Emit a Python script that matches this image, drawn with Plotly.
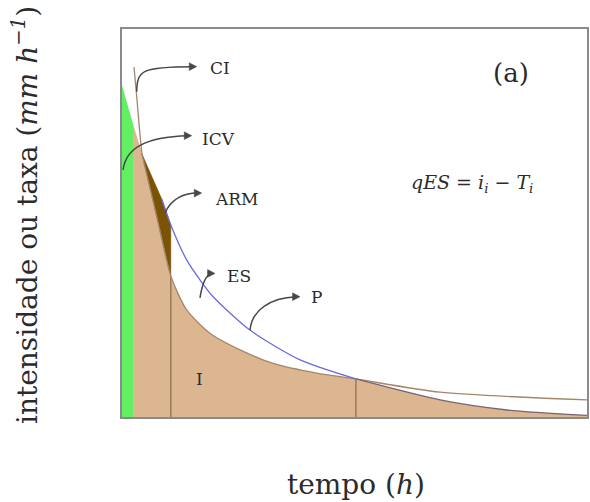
import plotly.graph_objects as go

# ---- data ----
# precipitation intensity curve P
t_p = [0, 2.37, 4.3, 6.5, 8.5, 10.5, 13.9, 16.8, 19.6, 27.5, 38.3, 50.3, 68.4, 82.8, 100]
p_rate = [85.5, 75.5, 67.8, 61.8, 56.3, 49.5, 40.5, 35.3, 31.0, 22.4, 14.7, 9.8, 4.4, 1.8, 0.4]
# infiltration capacity curve CI
t_ci = [2.58, 3.2, 4.3, 4.95, 7.6, 10.5, 13.9, 18.9, 25.4, 32.5, 41.9, 50.3, 68.4, 100]
ci_rate = [90.2, 82.1, 67.8, 64.4, 51.0, 36.3, 27.6, 21.6, 17.3, 13.8, 11.3, 9.8, 6.4, 4.4]

# indices of key instants
i_green_end = 1     # end of interception (t_p)
i_p_meet = 2        # P meets CI (t_p)
i_p_arm_end = 5     # end of depression storage (t_p)
i_p_cross = 11      # P falls below CI (t_p)
i_ci_meet = 2       # same instants in t_ci
i_ci_arm_end = 5
i_ci_cross = 11

GREEN = "#62ef62"
TAN = "#dbb691"
DARK = "#7a5304"
BLUE = "#6b6bdc"
CI_COL = "#a3876d"
EDGE = "#8d6b4f"
TXT = "#2b2b2b"
FONT = "DejaVu Serif"

fig = go.Figure()

# interception (green)
fig.add_trace(go.Scatter(
    x=t_p[:i_green_end + 1], y=p_rate[:i_green_end + 1],
    mode="lines", line=dict(width=0, color=GREEN),
    fill="tozeroy", fillcolor=GREEN, hoverinfo="skip"))

# infiltration (tan): under min(P, CI)
tan_x = t_p[i_green_end:i_p_meet] + t_ci[i_ci_meet:i_ci_cross] + t_p[i_p_cross:]
tan_y = p_rate[i_green_end:i_p_meet] + ci_rate[i_ci_meet:i_ci_cross] + p_rate[i_p_cross:]
fig.add_trace(go.Scatter(
    x=tan_x, y=tan_y, mode="lines",
    line=dict(width=0, color=TAN, shape="spline", smoothing=0.7),
    fill="tozeroy", fillcolor=TAN, hoverinfo="skip"))

# depression storage (dark brown)
arm_x = t_p[i_p_meet:i_p_arm_end + 1] + t_ci[i_ci_arm_end:i_ci_meet - 1:-1]
arm_y = p_rate[i_p_meet:i_p_arm_end + 1] + ci_rate[i_ci_arm_end:i_ci_meet - 1:-1]
fig.add_trace(go.Scatter(
    x=arm_x, y=arm_y, mode="lines",
    line=dict(width=0.5, color=DARK),
    fill="toself", fillcolor=DARK, hoverinfo="skip"))

# vertical separators
for tv, yv in [(t_ci[i_ci_arm_end], ci_rate[i_ci_arm_end]),
               (t_ci[i_ci_cross], ci_rate[i_ci_cross])]:
    fig.add_trace(go.Scatter(x=[tv, tv], y=[0, yv], mode="lines",
                             line=dict(color=EDGE, width=1.2), hoverinfo="skip"))

# infiltration capacity curve
fig.add_trace(go.Scatter(
    x=t_ci, y=ci_rate, mode="lines",
    line=dict(color=CI_COL, width=1.3, shape="spline", smoothing=0.7),
    hoverinfo="skip"))

# precipitation curve
fig.add_trace(go.Scatter(
    x=t_p[i_p_arm_end - 1:i_p_cross + 1], y=p_rate[i_p_arm_end - 1:i_p_cross + 1],
    mode="lines", line=dict(color=BLUE, width=1.3, shape="spline", smoothing=0.7),
    hoverinfo="skip"))
fig.add_trace(go.Scatter(
    x=t_p[i_p_cross:], y=p_rate[i_p_cross:],
    mode="lines", line=dict(color="#7a6275", width=1.3, shape="spline", smoothing=0.7),
    hoverinfo="skip"))

# curved pointer arrows (data coords)
ARROW = "#474747"
curves = [
    ((3.16, 83.8), (3.23, 89.4), (4.30, 90.3), (16.06, 90.3)),   # CI
    ((0.22, 63.7), (0.86, 69.3), (4.95, 72.2), (14.99, 72.5)),   # ICV
    ((9.25, 52.6), (10.75, 56.4), (13.55, 57.7), (17.14, 57.7)), # ARM
    ((16.77, 30.7), (17.2, 34.0), (18.06, 36.6), (20.0, 37.0)),  # ES
    ((27.53, 22.4), (27.96, 27.6), (31.83, 30.7), (38.28, 31.0)),# P
]
HEAD_L, HEAD_H = 1.6, 1.0   # arrowhead length (x units) and half-height (y units)
shapes = []
for a, b, c, d in curves:
    shapes.append(dict(
        type="path", xref="x", yref="y",
        path=f"M {a[0]},{a[1]} C {b[0]},{b[1]} {c[0]},{c[1]} {d[0] - HEAD_L * 0.5},{d[1]}",
        line=dict(color=ARROW, width=1.5)))
    shapes.append(dict(
        type="path", xref="x", yref="y",
        path=(f"M {d[0]},{d[1]} L {d[0] - HEAD_L},{d[1] + HEAD_H} "
              f"L {d[0] - HEAD_L},{d[1] - HEAD_H} Z"),
        fillcolor=ARROW, line=dict(color=ARROW, width=0.5)))

annotations = []
labels = [("CI", 21.08, 89.9), ("ICV", 20.65, 71.6), ("ARM", 24.73, 56.2),
          ("ES", 25.16, 36.3), ("P", 41.72, 30.9), ("I", 16.77, 9.8)]
for txt, x, y in labels:
    annotations.append(dict(x=x, y=y, xref="x", yref="y", text=txt,
                            showarrow=False, xanchor="center", yanchor="middle",
                            font=dict(family=FONT, size=17, color=TXT)))

annotations.append(dict(x=83.66, y=88.7, xref="x", yref="y", text="(a)",
                        showarrow=False, xanchor="center", yanchor="middle",
                        font=dict(family=FONT, size=26, color=TXT)))
annotations.append(dict(x=75.27, y=60.1, xref="x", yref="y",
                        text="<i>qES</i> = <i>i</i><sub><i>i</i></sub> − <i>T</i><sub><i>i</i></sub>",
                        showarrow=False, xanchor="center", yanchor="middle",
                        font=dict(family=FONT, size=19, color=TXT)))

# figure geometry
W, H = 590, 502
ML, MR, MT, MB = 122, 3, 29, 85
pw, ph = W - ML - MR, H - MT - MB

def paper_x(px):
    return (px - ML) / pw

def paper_y(py):
    return ((H - py) - MB) / ph

annotations.append(dict(x=paper_x(356), y=paper_y(484), xref="paper", yref="paper",
                        text="tempo (<i>h</i>)", showarrow=False,
                        xanchor="center", yanchor="middle",
                        font=dict(family=FONT, size=28, color=TXT)))
annotations.append(dict(x=paper_x(26), y=paper_y(215), xref="paper", yref="paper",
                        text="intensidade ou taxa (<i>mm h</i><sup><i>−1</i></sup>)",
                        textangle=-90, showarrow=False,
                        xanchor="center", yanchor="middle",
                        font=dict(family=FONT, size=28, color=TXT)))

fig.update_layout(
    width=W, height=H,
    margin=dict(l=ML, r=MR, t=MT, b=MB, autoexpand=False),
    paper_bgcolor="white", plot_bgcolor="white",
    showlegend=False,
    shapes=shapes, annotations=annotations,
    xaxis=dict(range=[0, 100], showticklabels=False, showgrid=False,
               zeroline=False, showline=True, mirror=True,
               linecolor="#8a8a8a", linewidth=2, ticks=""),
    yaxis=dict(range=[0, 100], showticklabels=False, showgrid=False,
               zeroline=False, showline=True, mirror=True,
               linecolor="#8a8a8a", linewidth=2, ticks=""),
)

fig.write_html(
    "out.html",
    config={"displayModeBar": False},
    post_script="document.body.style.margin='0';document.body.style.overflow='hidden';",
)
